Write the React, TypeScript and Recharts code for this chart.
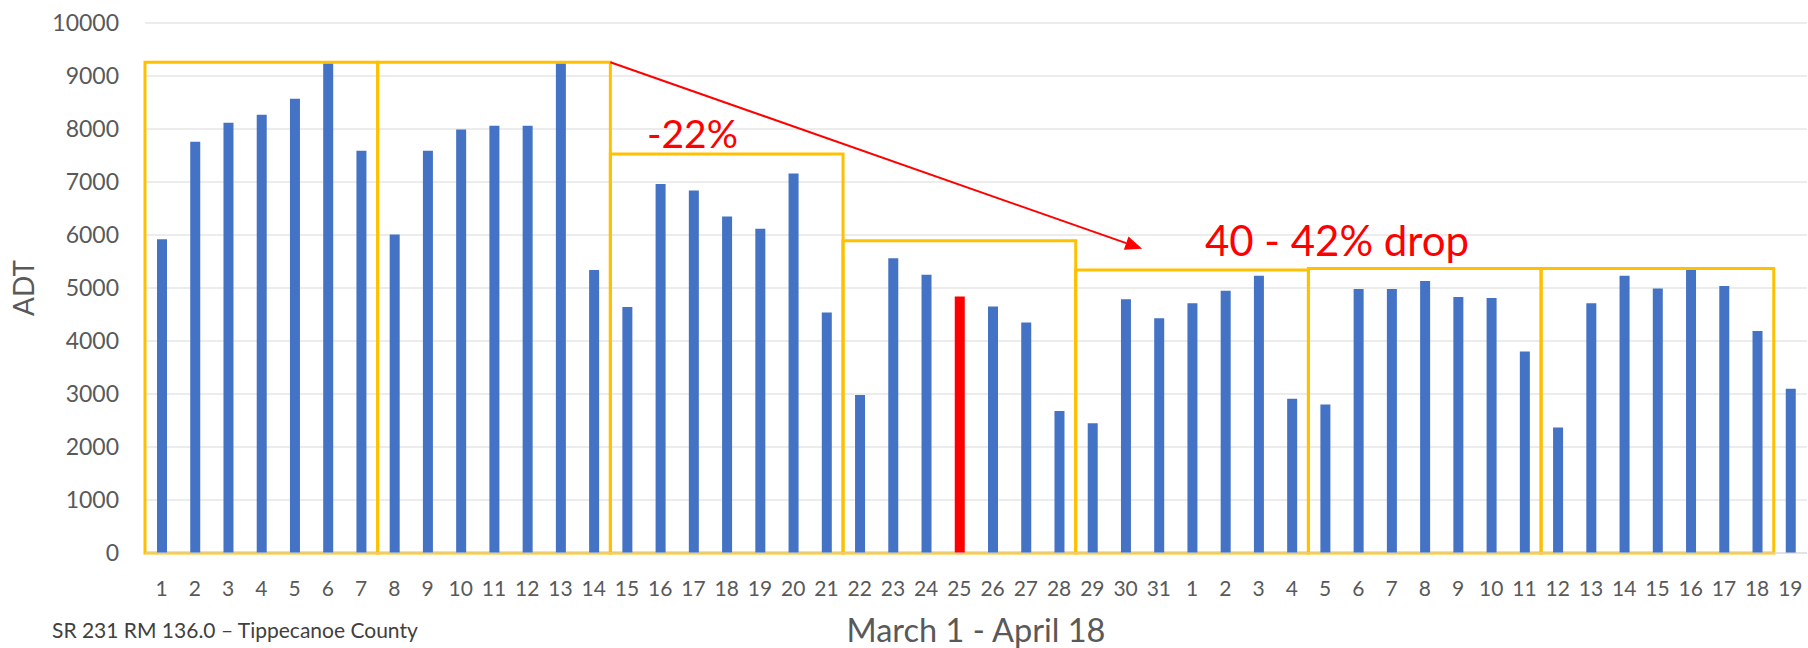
import { BarChart, Bar, XAxis, YAxis, CartesianGrid, ReferenceArea, ReferenceLine, ReferenceDot, Cell } from 'recharts';

// one bar per day, March 1 - April 19
const dates = [
  '3/1', '3/2', '3/3', '3/4', '3/5', '3/6', '3/7', '3/8', '3/9', '3/10',
  '3/11', '3/12', '3/13', '3/14', '3/15', '3/16', '3/17', '3/18', '3/19', '3/20',
  '3/21', '3/22', '3/23', '3/24', '3/25', '3/26', '3/27', '3/28', '3/29', '3/30',
  '3/31', '4/1', '4/2', '4/3', '4/4', '4/5', '4/6', '4/7', '4/8', '4/9',
  '4/10', '4/11', '4/12', '4/13', '4/14', '4/15', '4/16', '4/17', '4/18', '4/19',
];

const adt = [
  5920, 7760, 8120, 8270, 8570, 9230, 7590, 6010, 7590, 7990,
  8060, 8060, 9230, 5340, 4640, 6960, 6840, 6350, 6120, 7160,
  4540, 2980, 5560, 5250, 4840, 4650, 4350, 2680, 2450, 4790,
  4430, 4710, 4950, 5230, 2910, 2800, 4980, 4980, 5130, 4830,
  4810, 3800, 2370, 4710, 5230, 4990, 5340, 5040, 4190, 3100,
];

const highlightDate = '3/25';

// weekly boxes
const weekStart = ['3/1', '3/8', '3/15', '3/22', '3/29', '4/5', '4/12'];
const weekEnd = ['3/7', '3/14', '3/21', '3/28', '4/4', '4/11', '4/18'];
const weekTop = [9260, 9260, 7530, 5890, 5340, 5370, 5370];

const yTicks = [0, 1000, 2000, 3000, 4000, 5000, 6000, 7000, 8000, 9000, 10000];

// annotations
const noteText = ['-22%', '40 - 42% drop'];
const noteDate = ['3/17', '4/5'];
const noteY = [7900, 5890];
const noteShift = [-1, 12];
const noteSize = [39, 42];
// arrow runs between band edges (end of 3/14 -> end of 3/30)
const arrowFrom = { x: '3/14', y: 9260 };
const arrowTo = { x: '3/30', y: 5740 };

const data = dates.map((d, i) => ({ date: d, adt: adt[i] }));

const Arrow = (props: any) => {
  const { x1, y1, x2, y2 } = props;
  const a = Math.atan2(y2 - y1, x2 - x1);
  const len = 17;
  const half = 7;
  const bx = x2 - len * Math.cos(a);
  const by = y2 - len * Math.sin(a);
  const pts = `${x2},${y2} ${bx + half * Math.sin(a)},${by - half * Math.cos(a)} ${bx - half * Math.sin(a)},${by + half * Math.cos(a)}`;
  return (
    <g>
      <line x1={x1} y1={y1} x2={bx} y2={by} stroke="#FF0000" strokeWidth={2} />
      <polygon points={pts} fill="#FF0000" />
    </g>
  );
};

const AdtLabel = (props: any) => {
  const { viewBox } = props;
  const cy = viewBox.y + viewBox.height / 2;
  return (
    <text x={34} y={cy} transform={`rotate(-90, 34, ${cy})`} textAnchor="middle" fill="#595959" fontSize={28}>
      ADT
    </text>
  );
};

export default function App() {
  return (
    <div style={{ position: 'relative', width: 1808, height: 648, fontFamily: 'Lato', background: '#fff' }}>
      <style>{'body{margin:0}'}</style>
      <BarChart
        width={1808}
        height={648}
        data={data}
        margin={{ top: 23, right: 1, bottom: 0, left: 0 }}
        style={{ fontFamily: 'Lato' }}
      >
        <CartesianGrid vertical={false} stroke="#D9D9D9" />
        <XAxis
          dataKey="date"
          interval={0}
          tickLine={false}
          axisLine={{ stroke: '#D9D9D9' }}
          tick={{ fill: '#595959', fontSize: 21 }}
          tickMargin={22}
          tickFormatter={(d: string) => d.split('/')[1]}
          height={95}
          label={{ value: 'March 1 - April 18', position: 'insideBottom', offset: 6, fill: '#595959', fontSize: 32.5 }}
        />
        <YAxis
          width={145}
          domain={[0, 10000]}
          ticks={yTicks}
          tickLine={false}
          axisLine={false}
          tick={{ fill: '#595959', fontSize: 23 }}
          tickMargin={20}
          label={<AdtLabel />}
        />
        <Bar dataKey="adt" barSize={10} isAnimationActive={false}>
          {data.map((d) => (
            <Cell key={d.date} fill={d.date === highlightDate ? '#FF0000' : '#4472C4'} />
          ))}
        </Bar>
        {weekStart.map((s, i) => (
          <ReferenceArea
            key={s}
            x1={s}
            x2={weekEnd[i]}
            y1={0}
            y2={weekTop[i]}
            fill="none"
            fillOpacity={0}
            stroke="#FFC000"
            strokeWidth={3}
            strokeOpacity={1}
          />
        ))}
        <ReferenceLine segment={[arrowFrom, arrowTo]} position="end" shape={Arrow} />
        {noteText.map((t, i) => (
          <ReferenceDot
            key={t}
            x={noteDate[i]}
            y={noteY[i]}
            r={0}
            fill="none"
            stroke="none"
            label={{ value: t, position: 'center', fill: '#FF0000', fontSize: noteSize[i], dx: noteShift[i] }}
          />
        ))}
      </BarChart>
      <div
        style={{
          position: 'absolute',
          left: 52,
          top: 619,
          fontSize: 21,
          lineHeight: '21px',
          color: '#404040',
          whiteSpace: 'nowrap',
        }}
      >
        SR 231 RM 136.0 – Tippecanoe County
      </div>
    </div>
  );
}
